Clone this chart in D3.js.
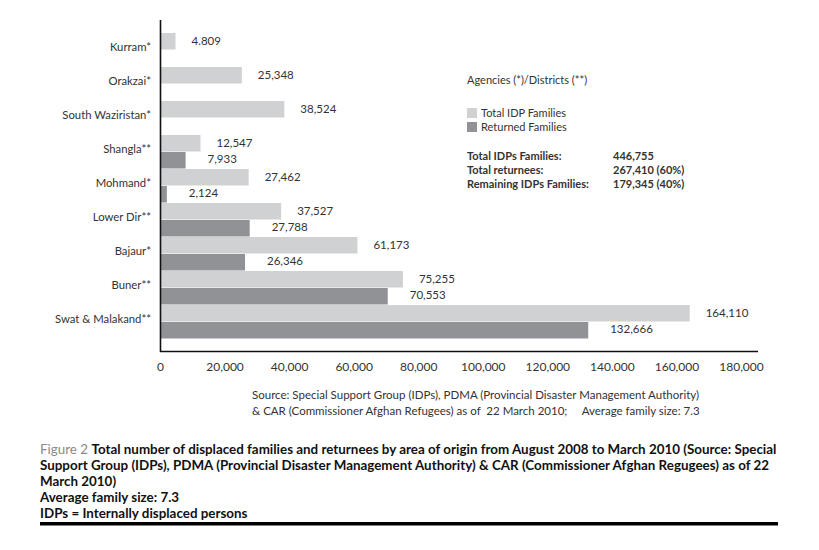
<!DOCTYPE html>
<html><head><meta charset="utf-8">
<script src="https://cdn.jsdelivr.net/npm/d3@7"></script>
<style>
body{margin:0;background:#fff;}
svg{display:block;}
text{font-family:Lato,"Open Sans",sans-serif;fill:#333;}
</style></head>
<body><div id="chart"></div>
<script>
const categories = ["Kurram*","Orakzai*","South Waziristan*","Shangla**","Mohmand*","Lower Dir**","Bajaur*","Buner**","Swat & Malakand**"];
const idpFamilies = [4809,25348,38524,12547,27462,37527,61173,75255,164110];
const idpLabels = ["4.809","25,348","38,524","12,547","27,462","37,527","61,173","75,255","164,110"];
const returnedFamilies = [null,null,null,7933,2124,27788,26346,70553,132666];
const returnedLabels = ["","","","7,933","2,124","27,788","26,346","70,553","132,666"];
const tickValues = [0,20000,40000,60000,80000,100000,120000,140000,160000,180000];
const tickLabels = ["0","20,000","40,000","60,000","80,000","100,000","120,000","140.000","160,000","180,000"];
const seriesNames = ["Total IDP Families","Returned Families"];
const summaryLabels = ["Total IDPs Families:","Total returnees:","Remaining IDPs Families:"];
const summaryValues = ["446,755","267,410 (60%)","179,345 (40%)"];

const W=819,H=550;
const svg=d3.select("#chart").append("svg").attr("width",W).attr("height",H);
const lightC="#cfd1d2", darkC="#909295";

const x=d3.scaleLinear().domain([0,180000]).range([160,741]);
const y=d3.scaleBand().domain(categories).range([33,339]).paddingInner(0).paddingOuter(0);
const bh=y.bandwidth()/2;

// bars
svg.append("g").selectAll("rect").data(categories).join("rect")
  .attr("x",x(0)).attr("y",d=>y(d)).attr("height",bh-0.5)
  .attr("width",(d,i)=>x(idpFamilies[i])-x(0)).attr("fill",lightC);
svg.append("g").selectAll("rect").data(categories.filter((d,i)=>returnedFamilies[i]!=null)).join("rect")
  .attr("x",x(0)).attr("y",d=>y(d)+bh).attr("height",bh-0.5)
  .attr("width",d=>x(returnedFamilies[categories.indexOf(d)])-x(0)).attr("fill",darkC);

// value labels
svg.append("g").selectAll("text").data(categories).join("text")
  .attr("x",(d,i)=>x(idpFamilies[i])+16).attr("y",d=>y(d)+bh/2+1)
  .attr("dominant-baseline","middle").attr("font-size",11.5)
  .text((d,i)=>idpLabels[i]);
svg.append("g").selectAll("text").data(categories.filter((d,i)=>returnedFamilies[i]!=null)).join("text")
  .attr("x",d=>x(returnedFamilies[categories.indexOf(d)])+22).attr("y",d=>y(d)+bh*1.5)
  .attr("dominant-baseline","middle").attr("font-size",11.5)
  .text(d=>returnedLabels[categories.indexOf(d)]);

// category axis
const yAxis=svg.append("g").attr("transform","translate(160,0)")
  .call(d3.axisLeft(y).tickSize(0).tickPadding(9));
yAxis.select(".domain").remove();
yAxis.selectAll("text").attr("font-size",11.3).attr("font-family","Lato,sans-serif").attr("fill","#333").attr("dy","0.1em");
svg.append("line").attr("x1",160.5).attr("x2",160.5).attr("y1",20).attr("y2",352).attr("stroke","#111").attr("stroke-width",1.6);

// x axis
const xAxis=svg.append("g").attr("transform","translate(0,351)")
  .call(d3.axisBottom(x).tickValues(tickValues).tickSize(0).tickPadding(11).tickFormat((d,i)=>tickLabels[i]));
xAxis.select(".domain").remove();
xAxis.selectAll("text").attr("font-size",12).attr("font-family","Lato,sans-serif").attr("fill","#333");
svg.append("line").attr("x1",160).attr("x2",758).attr("y1",351.5).attr("y2",351.5).attr("stroke","#111").attr("stroke-width",1.5);

// legend
svg.append("text").attr("x",467).attr("y",84).attr("font-size",11).text("Agencies (*)/Districts (**)");
const lg=svg.append("g");
[lightC,darkC].forEach((c,i)=>{
  lg.append("rect").attr("x",467).attr("y",108+i*14).attr("width",10).attr("height",10).attr("fill",c);
  lg.append("text").attr("x",481).attr("y",117+i*14).attr("font-size",11).text(seriesNames[i]);
});
summaryLabels.forEach((s,i)=>{
  svg.append("text").attr("x",467).attr("y",160+i*14).attr("font-size",11).attr("font-weight","bold").attr("fill","#111").text(s);
  svg.append("text").attr("x",613).attr("y",160+i*14).attr("font-size",11).attr("font-weight","bold").attr("fill","#111").text(summaryValues[i]);
});

// source
svg.append("text").attr("x",252).attr("y",399).attr("font-size",11.5)
  .text("Source: Special Support Group (IDPs), PDMA (Provincial Disaster Management Authority)");
svg.append("text").attr("x",252).attr("y",415).attr("font-size",11.5).attr("xml:space","preserve")
  .text("& CAR (Commissioner Afghan Refugees) as of  22 March 2010;     Average family size: 7.3");

// caption (condensed font emulated by uniform horizontal scaling)
const capLines=[
  "Total number of displaced families and returnees by area of origin from August 2008 to March 2010 (Source: Special",
  "Support Group (IDPs), PDMA (Provincial Disaster Management Authority) & CAR (Commissioner Afghan Regugees) as of 22",
  "March 2010)",
  "Average family size: 7.3",
  "IDPs = Internally displaced persons"
];
const capG=svg.append("g");
const capTexts=capLines.map((t,i)=>{
  const tx=capG.append("text").attr("x",0).attr("y",454+i*16).attr("font-size",13.5).attr("font-weight","bold");
  if(i===0){ tx.append("tspan").style("fill","#8a8a8a").attr("font-weight","normal").text("Figure 2 "); }
  tx.append("tspan").style("fill","#111").text(t);
  return tx;
});
const natural=capTexts[0].node().getComputedTextLength();
const sx=737/natural;
capG.attr("transform",`translate(40,0) scale(${sx},1)`);
svg.append("rect").attr("x",40).attr("y",522).attr("width",738).attr("height",3.5).attr("fill","#000");
</script></body></html>
